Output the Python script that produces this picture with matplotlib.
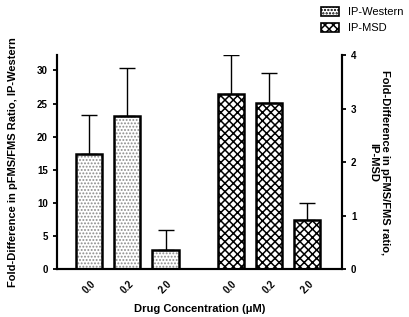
import numpy as np
import matplotlib.pyplot as plt
from matplotlib.patches import Patch

plt.rcParams['font.family'] = ['Liberation Sans', 'DejaVu Sans']

conc_labels = ['0.0', '0.2', '2.0']
western_mean = [17.4, 23.1, 2.9]
western_err = [5.8, 7.3, 3.0]
msd_mean = [3.28, 3.11, 0.92]
msd_err = [0.72, 0.55, 0.31]

x_w = np.arange(3)
x_m = np.arange(3) + 3.7

fig = plt.figure(figsize=(4.1, 3.17), dpi=100)
ax = fig.add_axes([0.139, 0.151, 0.695, 0.675])
ax2 = ax.twinx()

w = 0.68
ekw = dict(elinewidth=1.0, capthick=1.0, ecolor='black')

# hatch fill (grey dots) then black outline on top
plt.rcParams['hatch.linewidth'] = 0.9
ax.bar(x_w, western_mean, w, color='white', edgecolor='#8c8c8c', linewidth=0,
       hatch='.....')
ax.bar(x_w, western_mean, w, fill=False, edgecolor='black', linewidth=1.8,
       yerr=[np.zeros(3), western_err], capsize=6, error_kw=ekw)

plt.rcParams['hatch.linewidth'] = 1.1
ax2.bar(x_m, msd_mean, w, color='white', edgecolor='black', linewidth=0,
        hatch='xxxx')
ax2.bar(x_m, msd_mean, w, fill=False, edgecolor='black', linewidth=1.8,
        yerr=[np.zeros(3), msd_err], capsize=6, error_kw=ekw)

ax.set_xlim(-0.83, 6.6)
ax.set_ylim(0, 32.3)
ax2.set_ylim(0, 4)
ax.set_yticks([0, 5, 10, 15, 20, 25, 30])
ax2.set_yticks([0, 1, 2, 3, 4])

ax.set_xticks(np.concatenate([x_w, x_m]))
ax.set_xticklabels(conc_labels * 2, rotation=45, fontsize=7, fontweight='bold')
ax.tick_params(axis='x', length=0, pad=7)
ax.tick_params(axis='y', labelsize=7, width=1.3, length=3)
ax2.tick_params(axis='y', labelsize=7, width=1.3, length=3)
for lab in ax.get_yticklabels() + ax2.get_yticklabels():
    lab.set_fontweight('bold')

for a in (ax, ax2):
    a.spines['top'].set_visible(False)
    for s in ('left', 'right', 'bottom'):
        a.spines[s].set_linewidth(1.5)

ax.set_xlabel('Drug Concentration (\u03bcM)', fontsize=8, fontweight='bold', labelpad=6)
ax.set_ylabel('Fold-Difference in pFMS/FMS Ratio, IP-Western', fontsize=8, fontweight='bold',
              labelpad=14)
ax2.set_ylabel('Fold-Difference in pFMS/FMS ratio,\nIP-MSD', fontsize=8, fontweight='bold',
               rotation=270, labelpad=24)

plt.rcParams['hatch.linewidth'] = 0.8
h_w = Patch(facecolor='white', edgecolor='black', hatch='.....', linewidth=1.2)
plt.rcParams['hatch.linewidth'] = 1.1
h_m = Patch(facecolor='white', edgecolor='black', hatch='xxxx', linewidth=1.2)
fig.legend([h_w, h_m], ['IP-Western', 'IP-MSD'], loc='upper right', bbox_to_anchor=(1.0, 1.0),
           frameon=False, fontsize=8, handlelength=1.6, handleheight=0.9,
           borderaxespad=0.2, labelspacing=0.5)

fig.savefig('out.png', dpi=100)
